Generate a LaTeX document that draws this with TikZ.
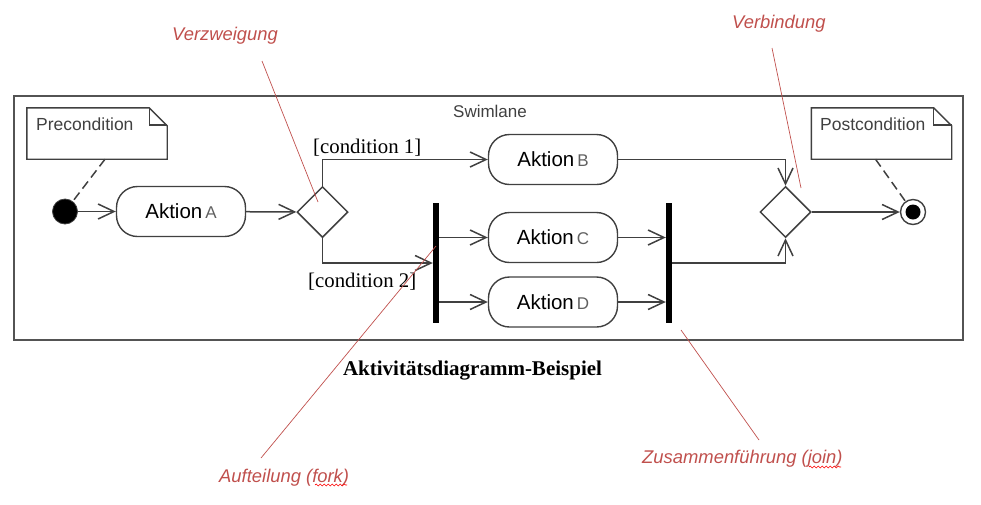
\documentclass[tikz,border=0pt]{standalone}
\usepackage{fontspec}
\setmainfont{Liberation Serif}
\newfontfamily\arialf{Liberation Sans}
\usetikzlibrary{arrows.meta,shapes.geometric,decorations.pathmorphing,calc}
\definecolor{ink}{HTML}{404040}
\definecolor{anno}{HTML}{C0504D}
\definecolor{letter}{HTML}{606060}
\begin{document}
\begin{tikzpicture}[x=1pt,y=-1pt,
  flow/.style={draw=ink, line width=1.5pt, -{Straight Barb[length=16pt,width=15pt]}},
  actionbox/.style={draw=ink, line width=1.4pt, rounded corners=21pt, minimum width=129pt, minimum height=50pt, inner sep=0pt, font=\arialf\fontsize{20.5}{20.5}\selectfont, text=black},
  decision/.style={diamond, draw=ink, line width=1.5pt, minimum width=51pt, minimum height=51pt, inner sep=0pt},
  bar/.style={fill=black, draw=none, minimum width=6pt, minimum height=120pt, inner sep=0pt},
  notebox/.style={draw=none, minimum width=140pt, minimum height=51pt, inner sep=0pt},
  noteline/.style={draw=ink, line width=1.4pt},
  notetext/.style={font=\arialf\fontsize{17.5}{17.5}\selectfont, text=ink, inner sep=0pt},
  dashline/.style={draw=ink, line width=1.5pt, dash pattern=on 9pt off 5pt},
  cond/.style={font=\fontsize{20.8}{20.8}\selectfont, text=black, inner sep=0pt},
  annot/.style={font=\arialf\itshape\fontsize{18.4}{18.4}\selectfont, text=anno, inner sep=0pt},
  annoline/.style={draw=anno, line width=0.7pt},
  squiggle/.style={draw=red, line width=0.6pt, decorate, decoration={snake, amplitude=1pt, segment length=4pt}}
]
\useasboundingbox (0,0) rectangle (981,504);

% swimlane frame
\node[draw=ink!90, line width=1.5pt, minimum width=949pt, minimum height=244pt, inner sep=0pt] (lane) at (488.5,218) {};
\node[font=\arialf\fontsize{17}{17}\selectfont, text=ink, anchor=base, inner sep=0pt] (lanelabel) at (490,117) {Swimlane};

% notes
\node[notebox] (pre) at (97,133.5) {};
\draw[noteline] (pre.north west) -- ($(pre.north east)+(-18,0)$) -- ($(pre.north east)+(0,18)$) -- (pre.south east) -- (pre.south west) -- cycle;
\draw[noteline] ($(pre.north east)+(-18,0)$) -- ($(pre.north east)+(-18,17)$) -- ($(pre.north east)+(0,17)$);
\node[notetext, anchor=base west] (pretext) at (36,130) {Precondition};

\node[notebox] (post) at (881.5,133.5) {};
\draw[noteline] (post.north west) -- ($(post.north east)+(-18,0)$) -- ($(post.north east)+(0,18)$) -- (post.south east) -- (post.south west) -- cycle;
\draw[noteline] ($(post.north east)+(-18,0)$) -- ($(post.north east)+(-18,17)$) -- ($(post.north east)+(0,17)$);
\node[notetext, anchor=base west] (posttext) at (820,130) {Postcondition};

% nodes
\node[circle, fill=black, draw=ink, line width=0.8pt, minimum size=25pt, inner sep=0pt] (init) at (65,211.5) {};
\node[actionbox] (a) at (181,211.5) {Aktion\hspace{3pt}\textcolor{letter}{\fontsize{17}{17}\selectfont A}};
\node[decision] (d1) at (322.5,212) {};
\node[actionbox] (b) at (553,159.5) {Aktion\hspace{3pt}\textcolor{letter}{\fontsize{17}{17}\selectfont B}};
\node[actionbox] (c) at (553,237.5) {Aktion\hspace{3pt}\textcolor{letter}{\fontsize{17}{17}\selectfont C}};
\node[actionbox] (dd) at (553,302) {Aktion\hspace{3pt}\textcolor{letter}{\fontsize{17}{17}\selectfont D}};
\node[bar] (fork) at (436,263) {};
\node[bar] (join) at (669,263) {};
\node[decision] (d2) at (785.5,212) {};
\node[circle, draw=ink, line width=1.4pt, minimum size=25pt, inner sep=0pt] (final) at (913,212) {};
\fill[black] (final.center) circle (7.5);

% connectors
\draw[flow] (init) -- (a);
\draw[flow] (a) -- (d1);
\draw[flow] (d1.north) |- (b.west);
\draw[flow] (d1.south) |- (fork.west);
\draw[flow] (fork.east |- c.west) -- (c.west);
\draw[flow] (fork.east |- dd.west) -- (dd.west);
\draw[flow] (c.east) -- (join.west |- c.east);
\draw[flow] (dd.east) -- (join.west |- dd.east);
\draw[flow] (b.east) -| (d2.north);
\draw[flow] (join.east) -| (d2.south);
\draw[flow] (d2.east) -- (final.west);

\draw[dashline] ($(pre.south)+(8,0)$) -- (init);
\draw[dashline] ($(post.south)+(-6,0)$) -- (final);

% condition labels
\node[cond, anchor=base west] (c1) at (313,153) {[condition 1]};
\node[cond, anchor=base west] (c2) at (308,287) {[condition 2]};

% caption
\node[font=\bfseries\fontsize{21}{21}\selectfont, anchor=base, inner sep=0pt] (caption) at (472.5,375) {Aktivitätsdiagramm-Beispiel};

% annotations
\node[annot, anchor=base west] (verz) at (172,40.5) {Verzweigung};
\node[annot, anchor=base west] (verb) at (732,28) {Verbindung};
\node[annot, anchor=base west] (auft) at (219,482) {Aufteilung (fork)};
\node[annot, anchor=base west] (zus) at (642,463) {Zusammenführung (join)};

\coordinate (verzS) at (262,61);
\coordinate (verzE) at (318,202);
\coordinate (verbS) at (772,48);
\coordinate (verbE) at (801,188);
\coordinate (auftS) at (261,458);
\coordinate (auftE) at (436,246);
\coordinate (zusS) at (759,440);
\coordinate (zusE) at (681,330);
\draw[annoline] (verzS) -- (verzE);
\draw[annoline] (verbS) -- (verbE);
\draw[annoline] (auftS) -- (auftE);
\draw[annoline] (zusS) -- (zusE);

\coordinate (sq1a) at (315,485);
\coordinate (sq1b) at (347,485);
\coordinate (sq2a) at (809,467);
\coordinate (sq2b) at (841,467);
\draw[squiggle] (sq1a) -- (sq1b);
\draw[squiggle] (sq2a) -- (sq2b);
\end{tikzpicture}
\end{document}
